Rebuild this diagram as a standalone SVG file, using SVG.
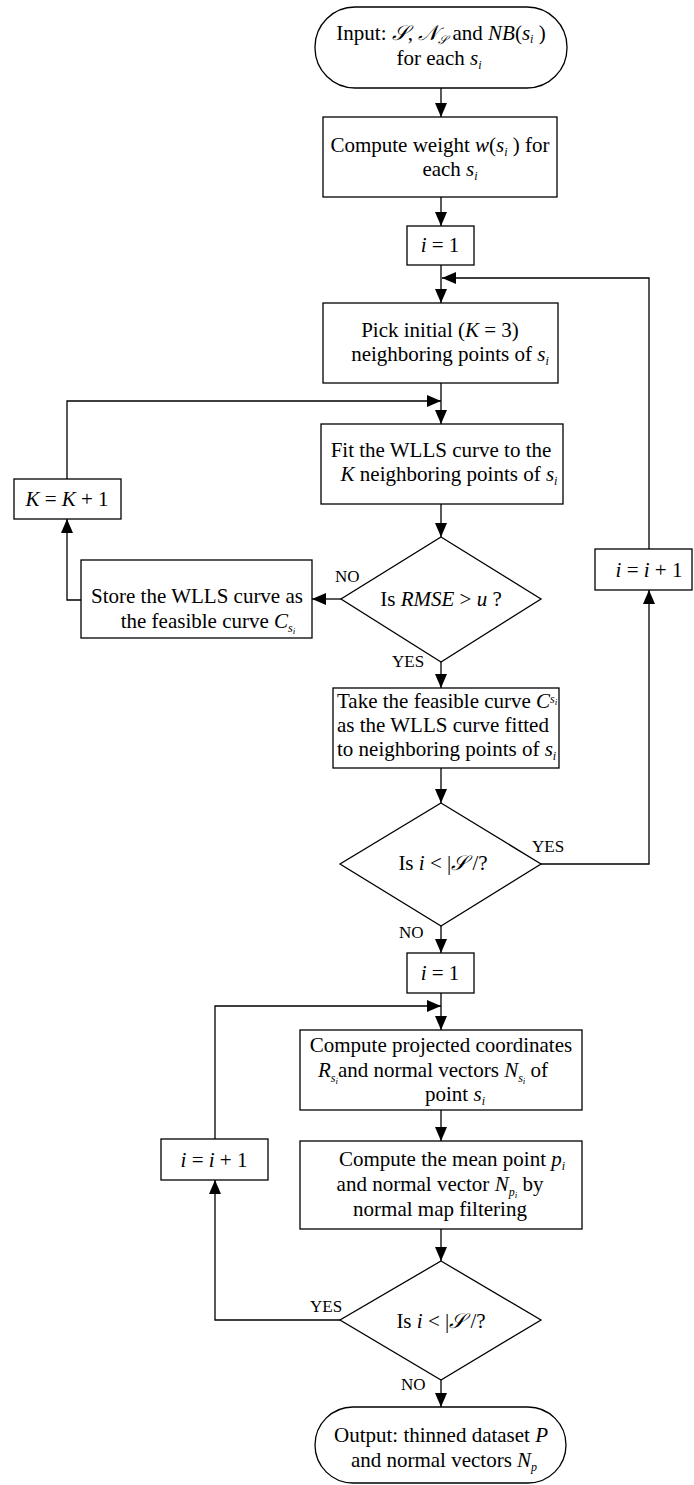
<svg xmlns="http://www.w3.org/2000/svg" width="694" height="1485" viewBox="0 0 694 1485">
  <style>
    .t { font-family: "Liberation Serif", "Times New Roman", serif; font-size: 21px; fill: #000; }
    .i { font-style: italic; }
    .cal { font-family: "DejaVu Serif", "DejaVu Sans", serif; font-style: italic; }
    .sub { font-size: 12px; font-style: italic; }
    .sub2 { font-size: 9px; font-style: italic; }
    .lbl { font-family: "Liberation Serif", "Times New Roman", serif; font-size: 17px; fill: #000; }
    .box { fill: #fff; stroke: #000; stroke-width: 1.3; }
    .wire { fill: none; stroke: #000; stroke-width: 1.3; marker-end: url(#arrow); }
  </style>
  <defs>
    <marker id="arrow" markerUnits="userSpaceOnUse" markerWidth="14" markerHeight="12" refX="14" refY="6" orient="auto">
      <path d="M0,0 L14,6 L0,12 z" fill="#000"/>
    </marker>
  </defs>
  <rect width="694" height="1485" fill="#fff"/>

  <!-- connectors -->
  <g id="connectors">
    <path class="wire" d="M441,88 V117"/>
    <path class="wire" d="M441,197 V226"/>
    <path class="wire" d="M441,265 V303"/>
    <path class="wire" d="M649,549 V278 H442"/>
    <path class="wire" d="M441,383 V424"/>
    <path class="wire" d="M67,479 V401 H441"/>
    <path class="wire" d="M441,504 V537"/>
    <path class="wire" d="M341,599 H312"/>
    <path class="wire" d="M81,600 H67 V519"/>
    <path class="wire" d="M441,662 V688"/>
    <path class="wire" d="M441,768 V803"/>
    <path class="wire" d="M541,864 H649 V590"/>
    <path class="wire" d="M441,926 V953"/>
    <path class="wire" d="M441,993 V1030"/>
    <path class="wire" d="M215,1139 V1006 H441"/>
    <path class="wire" d="M441,1110 V1141"/>
    <path class="wire" d="M441,1229 V1261"/>
    <path class="wire" d="M340,1320 H215 V1180"/>
    <path class="wire" d="M441,1380 V1407"/>
  </g>

  <!-- start -->
  <g id="start">
    <rect class="box" x="315" y="7" width="252" height="81" rx="40" ry="40"/>
    <text class="t" x="441" y="40" text-anchor="middle">Input: <tspan class="cal">𝒮</tspan>, <tspan class="cal">𝒩</tspan><tspan class="cal" font-size="12" dy="4">𝒮</tspan><tspan dy="-4"> and </tspan><tspan class="i">NB</tspan>(<tspan class="i">s</tspan><tspan class="sub" dy="3">i</tspan><tspan dy="-3"> )</tspan></text>
    <text class="t" x="439" y="65" text-anchor="middle">for each <tspan class="i">s</tspan><tspan class="sub" dy="4">i</tspan></text>
  </g>

  <!-- weights -->
  <g id="weights">
    <rect class="box" x="323" y="117" width="234" height="80"/>
    <text class="t" x="440" y="152" text-anchor="middle">Compute weight <tspan class="i">w</tspan>(<tspan class="i">s</tspan><tspan class="sub" dy="4">i</tspan><tspan dy="-4"> ) for</tspan></text>
    <text class="t" x="450" y="176" text-anchor="middle">each <tspan class="i">s</tspan><tspan class="sub" dy="4">i</tspan></text>
  </g>

  <!-- i = 1 (first pass) -->
  <g id="init-i-1">
    <rect class="box" x="407" y="226" width="67" height="39"/>
    <text class="t" x="440" y="252" text-anchor="middle"><tspan class="i">i</tspan> = 1</text>
  </g>

  <!-- pick initial neighbours -->
  <g id="pick">
    <rect class="box" x="323" y="303" width="235" height="80"/>
    <text class="t" x="440" y="337" text-anchor="middle">Pick initial (<tspan class="i">K</tspan> = 3)</text>
    <text class="t" x="450" y="361" text-anchor="middle">neighboring points of  <tspan class="i">s</tspan><tspan class="sub" dy="4">i</tspan></text>
  </g>

  <!-- fit WLLS -->
  <g id="fit">
    <rect class="box" x="321" y="424" width="242" height="80"/>
    <text class="t" x="441" y="457" text-anchor="middle">Fit the WLLS curve to the</text>
    <text class="t" x="449" y="481" text-anchor="middle"><tspan class="i">K</tspan> neighboring points of <tspan class="i">s</tspan><tspan class="sub" dy="4">i</tspan></text>
  </g>

  <!-- K = K + 1 -->
  <g id="k-inc">
    <rect class="box" x="14" y="479" width="107" height="40"/>
    <text class="t" x="67" y="506" text-anchor="middle"><tspan class="i">K</tspan> = <tspan class="i">K</tspan> + 1</text>
  </g>

  <!-- RMSE test -->
  <g id="rmse-test">
    <polygon class="box" points="441,537 541,599 441,662 341,599"/>
    <text class="t" x="441" y="606" text-anchor="middle">Is <tspan class="i">RMSE</tspan> &gt; <tspan class="i">u</tspan> ?</text>
    <text class="lbl" x="335" y="582">NO</text>
    <text class="lbl" x="392" y="667">YES</text>
  </g>

  <!-- store curve -->
  <g id="store">
    <rect class="box" x="81" y="560" width="231" height="78"/>
    <text class="t" x="197" y="603" text-anchor="middle">Store the WLLS curve as</text>
    <text class="t" x="208" y="628" text-anchor="middle">the feasible curve <tspan class="i">C</tspan><tspan class="sub" dy="4">s</tspan><tspan class="sub2" dy="2">i</tspan></text>
  </g>

  <!-- i = i + 1 (first loop) -->
  <g id="i-inc-1">
    <rect class="box" x="595" y="549" width="97" height="41"/>
    <text class="t" x="649" y="577" text-anchor="middle"><tspan class="i">i</tspan> = <tspan class="i">i</tspan> + 1</text>
  </g>

  <!-- take feasible curve -->
  <g id="take">
    <rect class="box" x="333" y="688" width="226" height="80"/>
    <text class="t" x="337" y="708">Take the feasible curve <tspan class="i">C</tspan><tspan class="sub" dy="-5">s</tspan><tspan class="sub2" dy="2">i</tspan></text>
    <text class="t" x="337" y="732">as the WLLS curve fitted</text>
    <text class="t" x="337" y="756">to neighboring points of <tspan class="i">s</tspan><tspan class="sub" dy="4">i</tspan></text>
  </g>

  <!-- loop test 1 -->
  <g id="loop-test-1">
    <polygon class="box" points="441,803 541,864 441,926 340,864"/>
    <text class="t" x="443" y="870" text-anchor="middle">Is <tspan class="i">i</tspan> &lt; |<tspan class="cal">𝒮</tspan> /?</text>
    <text class="lbl" x="532" y="852">YES</text>
    <text class="lbl" x="399" y="938">NO</text>
  </g>

  <!-- i = 1 (second pass) -->
  <g id="init-i-2">
    <rect class="box" x="407" y="953" width="67" height="40"/>
    <text class="t" x="440" y="980" text-anchor="middle"><tspan class="i">i</tspan> = 1</text>
  </g>

  <!-- projection -->
  <g id="project">
    <rect class="box" x="300" y="1030" width="282" height="80"/>
    <text class="t" x="441" y="1052" text-anchor="middle">Compute projected coordinates</text>
    <text class="t" x="433" y="1077" text-anchor="middle"><tspan class="i">R</tspan><tspan class="sub" dy="5">s</tspan><tspan class="sub2" dy="2">i</tspan><tspan dy="-7">and normal vectors  </tspan><tspan class="i">N</tspan><tspan class="sub" dy="5">s</tspan><tspan class="sub2" dy="2">i</tspan><tspan dy="-7">  of</tspan></text>
    <text class="t" x="455" y="1101" text-anchor="middle">point  <tspan class="i">s</tspan><tspan class="sub" dy="4">i</tspan></text>
  </g>

  <!-- mean point -->
  <g id="mean">
    <rect class="box" x="300" y="1141" width="282" height="88"/>
    <text class="t" x="452" y="1166" text-anchor="middle">Compute the mean point <tspan class="i">p</tspan><tspan class="sub" dy="4">i</tspan></text>
    <text class="t" x="440" y="1191" text-anchor="middle">and normal vector  <tspan class="i">N</tspan><tspan class="sub" dy="5">p</tspan><tspan class="sub2" dy="2">i</tspan><tspan dy="-7">  by</tspan></text>
    <text class="t" x="440" y="1216" text-anchor="middle">normal map filtering</text>
  </g>

  <!-- i = i + 1 (second loop) -->
  <g id="i-inc-2">
    <rect class="box" x="161" y="1139" width="107" height="41"/>
    <text class="t" x="214" y="1167" text-anchor="middle"><tspan class="i">i</tspan> = <tspan class="i">i</tspan> + 1</text>
  </g>

  <!-- loop test 2 -->
  <g id="loop-test-2">
    <polygon class="box" points="441,1261 541,1320 441,1380 340,1320"/>
    <text class="t" x="441" y="1328" text-anchor="middle">Is <tspan class="i">i</tspan> &lt; |<tspan class="cal">𝒮</tspan> /?</text>
    <text class="lbl" x="310" y="1312">YES</text>
    <text class="lbl" x="401" y="1390">NO</text>
  </g>

  <!-- end -->
  <g id="end">
    <rect class="box" x="315" y="1407" width="251" height="76" rx="38" ry="38"/>
    <text class="t" x="441" y="1442" text-anchor="middle">Output: thinned dataset <tspan class="i">P</tspan></text>
    <text class="t" x="444" y="1467" text-anchor="middle">and normal vectors <tspan class="i">N</tspan><tspan class="sub" dy="4">p</tspan></text>
  </g>
</svg>
